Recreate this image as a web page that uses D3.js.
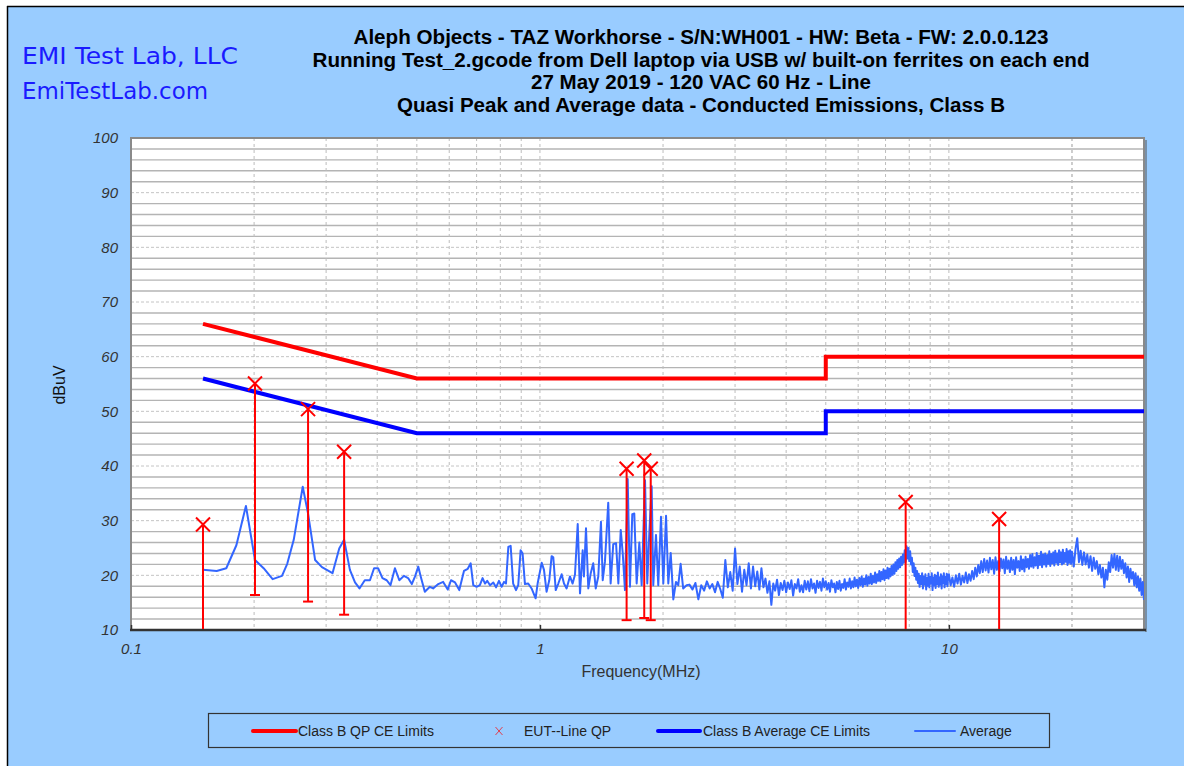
<!DOCTYPE html>
<html>
<head>
<meta charset="utf-8">
<script src="https://cdn.jsdelivr.net/npm/d3@7"></script>
<style>
  html, body { margin: 0; padding: 0; background: #ffffff; }
  svg { display: block; }
</style>
</head>
<body>
<div id="chart"></div>
<script>
// ---------------- DATA ----------------
const titleLines = [
  "Aleph Objects - TAZ Workhorse - S/N:WH001 - HW: Beta - FW: 2.0.0.123",
  "Running Test_2.gcode from Dell laptop via USB w/ built-on ferrites on each end",
  "27 May 2019 - 120 VAC 60 Hz - Line",
  "Quasi Peak and Average data - Conducted Emissions, Class B"
];
const labLines = ["EMI Test Lab, LLC", "EmiTestLab.com"];
const yTicks = [10, 20, 30, 40, 50, 60, 70, 80, 90, 100];
const xTicks = [0.1, 1, 10];
const xTickLabels = ["0.1", "1", "10"];
const xLabel = "Frequency(MHz)";
const yLabel = "dBuV";
const legendLabels = ["Class B QP CE Limits", "EUT--Line QP", "Class B Average CE Limits", "Average"];

// Class B limits
const qpLimitF = [0.15, 0.5, 5, 5, 30];
const qpLimitV = [66, 56, 56, 60, 60];
const avgLimitF = [0.15, 0.5, 5, 5, 30];
const avgLimitV = [56, 46, 46, 50, 50];

// EUT Line quasi-peak readings (value and lower bar end)
const qpF    = [0.15, 0.201, 0.271, 0.332, 1.629, 1.799, 1.866, 7.84, 13.27];
const qpV    = [29.3, 55.1, 50.4, 42.6, 39.5, 41.0, 39.5, 33.4, 30.3];
const qpLowV = [8.0, 16.4, 15.2, 12.8, 11.8, 12.2, 11.8, 8.0, 8.0];

// Average scan (MHz / dBuV)
const avgF = [
  0.150,0.162,0.171,0.181,0.191,0.201,0.211,0.222,0.234,0.241,0.250,0.263,0.271,0.282,0.293,0.311,0.323,0.332,0.343,0.353,
  0.362,0.373,0.384,0.393,0.402,0.412,0.422,0.431,0.442,0.453,0.465,0.476,0.486,0.495,0.504,0.511,0.523,0.538,0.548,0.564,
  0.580,0.595,0.606,0.620,0.635,0.652,0.666,0.677,0.687,0.700,0.713,0.724,0.734,0.743,0.755,0.769,0.781,0.794,0.806,0.817,
  0.826,0.837,0.848,0.860,0.874,0.885,0.897,0.907,0.919,0.936,0.954,0.976,0.987,1.010,1.023,1.038,1.054,1.068,1.078,1.093,
  1.109,1.130,1.145,1.162,1.184,1.202,1.218,1.237,1.253,1.272,1.281,1.296,1.313,1.331,1.350,1.369,1.389,1.410,1.424,1.442,
  1.469,1.489,1.511,1.535,1.555,1.576,1.594,1.614,1.639,1.660,1.682,1.701,1.724,1.750,1.773,1.807,1.830,1.851,1.876,1.893,
  1.922,1.947,1.977,2.003,2.034,2.060,2.088,2.119,2.151,2.179,2.208,2.240,2.284,
  2.32,2.36,2.40,2.44,2.48,2.52,2.56,2.60,2.64,2.68,2.72,2.76,2.80,2.84,2.88,2.92,2.96,3.00,3.04,3.08,
  3.12,3.16,3.20,3.24,3.28,3.32,3.36,3.40,3.44,3.48,3.52,3.56,3.60,3.64,3.68,3.72,3.76,3.80,3.84,3.88,
  3.92,3.96,4.00,4.04,4.08,4.12,4.16,4.20,4.24,4.28,4.32,4.36,4.40,4.44,4.48,4.52,4.56,4.60,4.64,4.68,
  4.72,4.76,4.80,4.84,4.88,4.92,4.96,
  5.00,5.04,5.08,5.12,5.16,5.20,5.24,5.28,5.32,5.36,5.40,5.44,5.48,5.52,5.56,5.60,5.64,5.68,5.72,5.76,
  5.80,5.84,5.88,5.92,5.96,6.00,6.04,6.08,6.12,6.16,6.20,6.24,6.28,6.32,6.36,6.40,6.44,6.48,6.52,6.56,
  6.60,6.64,6.68,6.72,6.76,6.80,6.84,6.88,6.92,6.96,7.00,7.04,7.08,7.12,7.16,7.20,7.24,7.28,7.32,7.36,
  7.40,7.44,7.48,7.52,7.56,7.60,7.64,7.68,7.72,7.76,7.80,7.84,7.88,7.92,7.96,8.00,8.04,8.08,8.12,8.16,
  8.20,8.24,8.28,8.32,8.36,8.40,8.44,8.48,8.52,8.56,8.60,8.64,8.68,8.72,8.76,8.80,8.84,8.88,8.92,8.96,
  9.00,9.04,9.08,9.12,9.16,9.20,9.24,9.28,9.32,9.36,9.40,9.44,9.48,9.52,9.56,9.60,9.64,9.68,9.72,9.76,
  9.80,9.84,9.88,9.92,9.96,
  10.0,10.1,10.2,10.3,10.4,10.5,10.6,10.7,10.8,10.9,11.0,11.1,11.2,11.3,11.4,11.5,11.6,11.7,11.8,11.9,
  12.0,12.1,12.2,12.3,12.4,12.5,12.6,12.7,12.8,12.9,13.0,13.1,13.2,13.3,13.4,13.5,13.6,13.7,13.8,13.9,
  14.0,14.1,14.2,14.3,14.4,14.5,14.6,14.7,14.8,14.9,15.0,15.1,15.2,15.3,15.4,15.5,15.6,15.7,15.8,15.9,
  16.0,16.1,16.2,16.3,16.4,16.5,16.6,16.7,16.8,16.9,17.0,17.1,17.2,17.3,17.4,17.5,17.6,17.7,17.8,17.9,
  18.0,18.1,18.2,18.3,18.4,18.5,18.6,18.7,18.8,18.9,19.0,19.1,19.2,19.3,19.4,19.5,19.6,19.7,19.8,19.9,
  20.0,
  20.2,20.4,20.6,20.8,21.0,21.2,21.4,21.6,21.8,22.0,22.2,22.4,22.6,22.8,23.0,23.2,23.4,23.6,23.8,24.0,
  24.2,24.4,24.6,24.8,25.0,25.2,25.4,25.6,25.8,26.0,26.2,26.4,26.6,26.8,27.0,27.2,27.4,27.6,27.8,28.0,
  28.2,28.4,28.6,28.8,29.0,29.2,29.4,29.6,29.8,30.0
];
const avgV = [
  21.0,20.8,21.3,25.5,32.7,22.8,21.3,19.3,19.9,22.1,26.5,36.2,31.3,22.8,21.5,20.4,24.9,26.5,21.0,18.7,
  17.6,19.1,19.1,21.3,21.3,19.5,19.1,18.2,21.3,19.1,19.9,19.5,18.4,19.8,21.6,19.8,17.0,17.9,17.6,18.4,
  18.8,17.4,19.1,18.7,17.3,20.8,21.2,22.2,18.2,17.9,18.2,19.5,18.5,19.0,18.2,18.7,17.8,19.0,17.9,18.8,
  18.5,25.2,25.4,18.5,17.3,18.2,24.6,24.0,18.4,18.5,17.6,15.8,18.5,22.3,21.0,17.0,19.1,23.5,23.3,17.3,
  18.5,20.2,18.5,17.6,19.8,18.5,20.1,29.4,16.7,24.6,19.8,28.6,17.6,20.4,22.2,17.6,19.8,29.8,19.1,22.5,
  33.3,18.5,25.7,25.9,18.5,28.3,24.0,17.3,37.6,17.9,31.2,31.3,18.5,26.0,18.2,37.4,18.5,27.7,36.3,18.2,
  27.4,18.2,30.7,18.5,30.9,18.5,24.1,15.6,18.8,18.2,22.1,17.6,18.2,
  18.3,17.4,18.6,15.6,18.2,17.2,18.9,17.6,18.4,16.9,18.8,17.5,15.9,22.8,17.8,20.6,17.2,24.9,18.4,21.6,
  17.0,21.0,18.2,22.2,17.6,21.6,18.0,20.7,17.4,21.3,17.8,19.4,16.8,18.9,14.6,18.5,17.2,19.2,16.4,18.6,
  17.3,19.0,16.9,18.7,17.5,19.1,16.3,18.4,17.6,19.3,17.0,18.2,16.9,19.0,17.4,18.9,17.1,19.3,17.6,18.5,
  16.8,19.0,17.7,18.8,17.2,19.4,17.8,
  18.9,17.4,18.6,17.0,19.1,17.8,18.5,16.9,18.8,17.5,19.0,17.2,18.4,17.7,19.3,17.4,18.7,17.9,19.4,17.6,
  18.9,17.8,19.6,18.0,19.2,17.7,19.5,18.2,19.8,17.9,19.4,18.3,20.0,18.1,19.7,18.5,20.3,18.4,19.9,18.7,
  20.5,18.6,20.2,19.0,20.8,18.9,20.6,19.3,21.1,19.1,20.9,19.5,21.4,19.4,21.2,19.8,21.7,20.1,22.0,20.3,
  22.4,20.8,22.8,21.2,23.1,21.5,23.4,21.9,23.8,22.3,24.6,22.5,25.3,23.1,25.0,22.6,24.4,22.0,23.2,20.6,
  22.2,19.9,21.4,19.2,20.8,18.6,20.3,17.9,19.9,18.4,20.4,17.6,19.8,18.3,20.2,17.4,19.5,18.1,20.3,17.8,
  19.7,18.5,20.4,17.3,19.6,18.2,20.1,17.7,19.9,18.4,20.5,17.9,19.6,18.3,20.2,17.6,19.8,18.6,20.4,17.8,
  19.7,18.4,20.3,18.0,19.9,
  20.2,18.2,19.6,17.9,20.0,18.5,20.3,18.3,19.9,18.7,20.5,18.6,20.2,19.0,20.8,19.3,21.4,19.8,21.9,20.4,
  22.6,20.6,23.0,20.9,22.7,20.5,23.2,21.1,22.8,20.3,23.3,21.0,22.6,20.7,23.1,21.3,22.9,20.4,23.4,21.2,
  22.7,20.6,23.2,21.0,22.8,20.2,23.3,21.4,22.6,20.8,23.5,21.1,22.9,20.7,23.4,21.5,23.0,21.2,23.7,21.6,
  23.9,21.4,23.3,21.8,24.1,21.3,23.6,21.9,24.3,21.5,23.8,22.0,24.0,21.6,23.7,22.1,24.4,21.7,23.9,22.2,
  24.2,21.8,24.5,22.3,24.0,21.9,24.6,22.4,24.2,22.0,24.7,22.2,24.1,22.5,24.8,21.9,24.4,22.3,24.6,22.1,
  24.3,
  21.6,24.8,26.8,22.4,24.5,21.9,24.2,22.0,23.8,21.4,23.5,20.8,23.2,21.2,22.6,20.2,21.9,19.6,21.4,17.8,
  21.0,19.2,22.4,20.6,23.7,21.4,23.9,21.0,23.6,20.8,23.4,21.2,22.8,20.4,22.2,19.6,21.6,18.8,21.2,19.4,
  20.6,18.2,20.4,17.8,19.8,17.2,19.4,16.4,18.8,15.5
];

// ---------------- DRAW ----------------
const W = 1184, H = 766;
const FONT = "'Liberation Sans', Arial, sans-serif";
const svg = d3.select("#chart").append("svg").attr("width", W).attr("height", H);

svg.append("rect").attr("width", W).attr("height", H).attr("fill", "#ffffff");
svg.append("rect").attr("x", 7).attr("y", 6).attr("width", W - 7).attr("height", H - 6).attr("fill", "#99ccff");
svg.append("line").attr("x1", 7).attr("x2", W).attr("y1", 6.5).attr("y2", 6.5).attr("stroke", "#000").attr("stroke-width", 1.5);
svg.append("line").attr("x1", 7.5).attr("x2", 7.5).attr("y1", 6).attr("y2", H).attr("stroke", "#000").attr("stroke-width", 1.5);

const plot = { left: 131, right: 1144, top: 138, bottom: 630 };
const x = d3.scaleLog().domain([0.1, 30]).range([plot.left, plot.right]);
const y = d3.scaleLinear().domain([10, 100]).range([plot.bottom, plot.top]);

svg.append("rect").attr("x", plot.left).attr("y", plot.top)
  .attr("width", plot.right - plot.left).attr("height", plot.bottom - plot.top).attr("fill", "#ffffff");

// grid
const grid = svg.append("g");
const minorY = d3.range(12, 100, 2).filter(v => v % 10 !== 0);
grid.selectAll(".hmin").data(minorY).join("line")
  .attr("x1", plot.left).attr("x2", plot.right)
  .attr("y1", d => y(d)).attr("y2", d => y(d))
  .attr("stroke", "#b4b4b4").attr("stroke-width", 1.4);
grid.selectAll(".hmaj").data(yTicks.filter(v => v > 10 && v < 100)).join("line")
  .attr("x1", plot.left).attr("x2", plot.right)
  .attr("y1", d => y(d)).attr("y2", d => y(d))
  .attr("stroke", "#c4c4c4").attr("stroke-width", 1).attr("stroke-dasharray", "3,2");
const vGrid = [];
[0.1, 1, 10].forEach(dec => { for (let k = 1; k <= 9; k++) { const v = +(dec * k).toFixed(3); if (v > 0.1 && v < 30 && vGrid.indexOf(v) < 0) vGrid.push(v); } });
vGrid.push(20);
grid.selectAll(".v").data(vGrid).join("line")
  .attr("x1", d => x(d)).attr("x2", d => x(d))
  .attr("y1", plot.top).attr("y2", plot.bottom)
  .attr("stroke", "#bdbdbd").attr("stroke-width", 1).attr("stroke-dasharray", "3,3");

// frame
svg.append("rect").attr("x", plot.left).attr("y", plot.top)
  .attr("width", plot.right - plot.left).attr("height", plot.bottom - plot.top)
  .attr("fill", "none").attr("stroke", "#8a8a8a").attr("stroke-width", 2);
svg.append("line").attr("x1", plot.right + 2).attr("x2", plot.right + 2).attr("y1", plot.top + 2).attr("y2", plot.bottom + 2)
  .attr("stroke", "#555").attr("stroke-width", 1);
svg.append("line").attr("x1", plot.left - 1).attr("x2", plot.right + 2).attr("y1", plot.bottom).attr("y2", plot.bottom)
  .attr("stroke", "#333").attr("stroke-width", 2.5);

// axes
const xAxis = d3.axisBottom(x).tickValues(xTicks).tickFormat((d, i) => xTickLabels[i])
  .tickSizeInner(-5).tickSizeOuter(0).tickPadding(13);
const gx = svg.append("g").attr("transform", `translate(0,${plot.bottom})`).call(xAxis);
gx.select(".domain").remove();
gx.selectAll(".tick line").attr("stroke", "#333").attr("stroke-width", 1.5);
gx.selectAll("text").attr("font-family", FONT).attr("font-size", 15).attr("font-style", "italic").attr("fill", "#333");

const yAxis = d3.axisLeft(y).tickValues(yTicks).tickSize(0).tickPadding(13);
const gy = svg.append("g").attr("transform", `translate(${plot.left},0)`).call(yAxis);
gy.select(".domain").remove();
gy.selectAll("text").attr("font-family", FONT).attr("font-size", 15).attr("font-style", "italic").attr("fill", "#333");

svg.append("text").attr("x", 641).attr("y", 677).attr("text-anchor", "middle")
  .attr("font-family", FONT).attr("font-size", 16).attr("fill", "#333").text(xLabel);
svg.append("text").attr("transform", "translate(65,385) rotate(-90)").attr("text-anchor", "middle")
  .attr("font-family", FONT).attr("font-size", 16).attr("fill", "#111").text(yLabel);

// titles
const titleWidths = [695, 777, 340, 608];
svg.selectAll(".title").data(titleLines).join("text")
  .attr("x", 701).attr("y", (d, i) => 44 + i * 22.7).attr("text-anchor", "middle")
  .attr("font-family", FONT).attr("font-weight", "bold").attr("font-size", 19.5).attr("fill", "#000")
  .attr("textLength", (d, i) => titleWidths[i]).attr("lengthAdjust", "spacingAndGlyphs")
  .text(d => d);
svg.selectAll(".lab").data(labLines).join("text")
  .attr("x", 22).attr("y", (d, i) => 64 + i * 34.5)
  .attr("font-family", "'DejaVu Sans', sans-serif").attr("font-size", 23).attr("fill", "#1a1aff")
  .attr("textLength", (d, i) => [216, 186][i]).attr("lengthAdjust", "spacingAndGlyphs")
  .text(d => d);

// data layer
svg.append("clipPath").attr("id", "clip").append("rect")
  .attr("x", plot.left).attr("y", plot.top).attr("width", plot.right - plot.left).attr("height", plot.bottom - plot.top - 1);
const data = svg.append("g").attr("clip-path", "url(#clip)");
const line = d3.line().x(d => x(d[0])).y(d => y(d[1]));

data.append("path").datum(qpLimitF.map((f, i) => [f, qpLimitV[i]]))
  .attr("d", line).attr("fill", "none").attr("stroke", "#ff0000").attr("stroke-width", 4);
data.append("path").datum(avgLimitF.map((f, i) => [f, avgLimitV[i]]))
  .attr("d", line).attr("fill", "none").attr("stroke", "#0000ff").attr("stroke-width", 4);
data.append("path").datum(avgF.map((f, i) => [f, avgV[i]]))
  .attr("d", line).attr("fill", "none").attr("stroke", "#3366ff").attr("stroke-width", 2).attr("stroke-linejoin", "round");

const qp = data.selectAll(".qp").data(qpF.map((f, i) => ({ f, v: qpV[i], lo: qpLowV[i] }))).join("g");
qp.append("line").attr("x1", d => x(d.f)).attr("x2", d => x(d.f))
  .attr("y1", d => y(d.v)).attr("y2", d => y(d.lo)).attr("stroke", "#ff0000").attr("stroke-width", 2);
qp.append("line").attr("x1", d => x(d.f) - 5).attr("x2", d => x(d.f) + 5)
  .attr("y1", d => y(d.lo)).attr("y2", d => y(d.lo)).attr("stroke", "#ff0000").attr("stroke-width", 2);
qp.append("path").attr("transform", d => `translate(${x(d.f)},${y(d.v)})`)
  .attr("d", "M-7,-7L7,7M-7,7L7,-7").attr("stroke", "#ff0000").attr("stroke-width", 2).attr("fill", "none");

// legend
const lg = svg.append("g");
lg.append("rect").attr("x", 208.5).attr("y", 713.5).attr("width", 841).attr("height", 34)
  .attr("fill", "none").attr("stroke", "#333").attr("stroke-width", 1.2);
const ly = 731;
const legItems = [
  { x1: 253, x2: 296, tx: 298, color: "#ff0000", w: 4, type: "line" },
  { x1: 499, x2: 499, tx: 524, color: "#ff0000", w: 1, type: "x" },
  { x1: 658, x2: 700, tx: 703, color: "#0000ff", w: 4, type: "line" },
  { x1: 915, x2: 955, tx: 960, color: "#3366ff", w: 2, type: "line" }
];
legItems.forEach((it, i) => {
  if (it.type === "line") {
    lg.append("line").attr("x1", it.x1).attr("x2", it.x2).attr("y1", ly).attr("y2", ly)
      .attr("stroke", it.color).attr("stroke-width", it.w).attr("stroke-linecap", "round");
  } else {
    lg.append("path").attr("transform", `translate(${it.x1},${ly})`).attr("d", "M-3.5,-4L3.5,4M-3.5,4L3.5,-4")
      .attr("stroke", "#e04050").attr("stroke-width", 1).attr("fill", "none");
  }
  lg.append("text").attr("x", it.tx).attr("y", ly + 5).attr("font-family", FONT).attr("font-size", 14)
    .attr("fill", "#222").text(legendLabels[i]);
});
</script>
</body>
</html>
